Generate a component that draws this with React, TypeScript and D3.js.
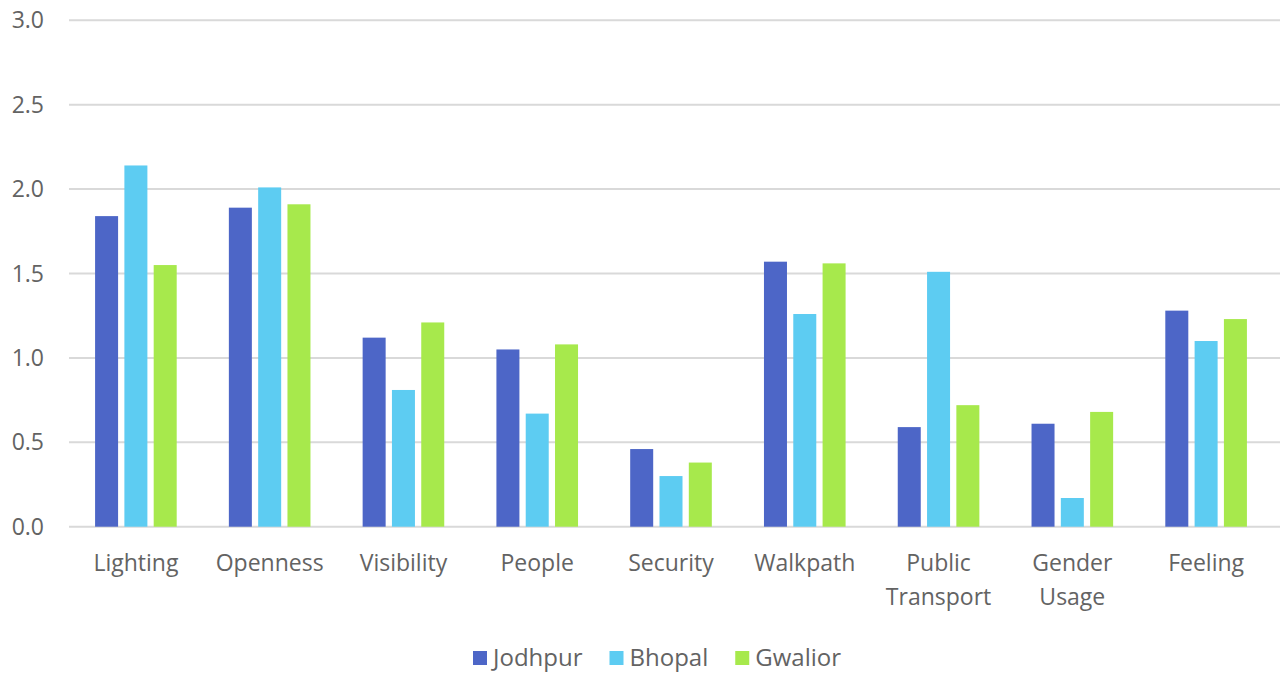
import React, { useEffect, useRef } from "react";
import * as d3 from "d3";

const categories = [
  ["Lighting"],
  ["Openness"],
  ["Visibility"],
  ["People"],
  ["Security"],
  ["Walkpath"],
  ["Public", "Transport"],
  ["Gender", "Usage"],
  ["Feeling"],
];
const seriesNames = ["Jodhpur", "Bhopal", "Gwalior"];
const jodhpur = [1.84, 1.89, 1.12, 1.05, 0.46, 1.57, 0.59, 0.61, 1.28];
const bhopal = [2.14, 2.01, 0.81, 0.67, 0.3, 1.26, 1.51, 0.17, 1.1];
const gwalior = [1.55, 1.91, 1.21, 1.08, 0.38, 1.56, 0.72, 0.68, 1.23];
const yTicks = [0, 0.5, 1, 1.5, 2, 2.5, 3];
const colors = ["#4D66C7", "#5DCCF2", "#A7E94C"];

const W = 1280;
const H = 673;
const FONT = "'Open Sans', Lato, sans-serif";
const TEXT = "#636363";
const FS = 23;
const LEGEND_FS = 24;

export default function App() {
  const ref = useRef<SVGSVGElement>(null);

  useEffect(() => {
    document.body.style.margin = "0";
    const svg = d3.select(ref.current);
    svg.selectAll("*").remove();

    const values = [jodhpur, bhopal, gwalior];
    const keys = categories.map((c) => c.join(" "));

    const x0 = d3.scaleBand<string>().domain(keys).range([69, 1273]).padding(0);
    const x1 = d3
      .scaleBand<string>()
      .domain(seriesNames)
      .range([0, x0.bandwidth()])
      .paddingInner(0.215)
      .paddingOuter(0.89);
    const y = d3.scaleLinear().domain([0, 3]).range([526.7, 20.3]);

    // horizontal gridlines
    svg
      .append("g")
      .selectAll("line")
      .data(yTicks)
      .join("line")
      .attr("x1", 69)
      .attr("x2", W)
      .attr("y1", (d) => y(d))
      .attr("y2", (d) => y(d))
      .attr("stroke", "#D9D9D9")
      .attr("stroke-width", 2);

    // y tick labels
    svg
      .append("g")
      .selectAll("text")
      .data(yTicks)
      .join("text")
      .attr("x", 44)
      .attr("y", (d) => y(d))
      .attr("dy", "0.35em")
      .attr("text-anchor", "end")
      .attr("font-family", FONT)
      .attr("font-size", FS)
      .attr("fill", TEXT)
      .text((d) => d.toFixed(1));

    // bars
    const groups = svg
      .append("g")
      .selectAll("g")
      .data(keys)
      .join("g")
      .attr("transform", (k) => `translate(${x0(k)},0)`);

    groups
      .selectAll("rect")
      .data((k) => seriesNames.map((s, j) => ({ s, v: values[j][keys.indexOf(k)], j })))
      .join("rect")
      .attr("x", (d) => x1(d.s)!)
      .attr("width", x1.bandwidth())
      .attr("y", (d) => y(d.v))
      .attr("height", (d) => y(0) - y(d.v))
      .attr("fill", (d) => colors[d.j]);

    // category labels
    const lab = svg
      .append("g")
      .selectAll("text")
      .data(categories)
      .join("text")
      .attr("x", (c) => x0(c.join(" "))! + x0.bandwidth() / 2)
      .attr("y", 571)
      .attr("text-anchor", "middle")
      .attr("font-family", FONT)
      .attr("font-size", FS)
      .attr("fill", TEXT);
    lab
      .selectAll("tspan")
      .data((c) => c)
      .join("tspan")
      .attr("x", function () {
        return (this.parentNode as SVGTextElement).getAttribute("x");
      })
      .attr("dy", (_, i) => (i === 0 ? 0 : 34))
      .text((t) => t);

    // legend
    const legend = svg.append("g");
    const sq = 14;
    const gapAfterSq = 6;
    const itemGap = 27;
    const items = seriesNames.map((name, i) => {
      const g = legend.append("g");
      g.append("rect").attr("width", sq).attr("height", sq).attr("y", -sq / 2).attr("fill", colors[i]);
      const t = g
        .append("text")
        .attr("x", sq + gapAfterSq)
        .attr("dy", "0.35em")
        .attr("font-family", FONT)
        .attr("font-size", LEGEND_FS)
        .attr("fill", TEXT)
        .text(name);
      const w = (t.node() as SVGTextElement).getComputedTextLength();
      return { g, w: sq + gapAfterSq + w };
    });
    const total = d3.sum(items, (d) => d.w) + itemGap * (items.length - 1);
    let cx = 657 - total / 2;
    items.forEach((it) => {
      it.g.attr("transform", `translate(${cx},658)`);
      cx += it.w + itemGap;
    });
  }, []);

  return (
    <svg
      ref={ref}
      width={W}
      height={H}
      style={{ position: "absolute", left: 0, top: 0, background: "#fff" }}
    />
  );
}
